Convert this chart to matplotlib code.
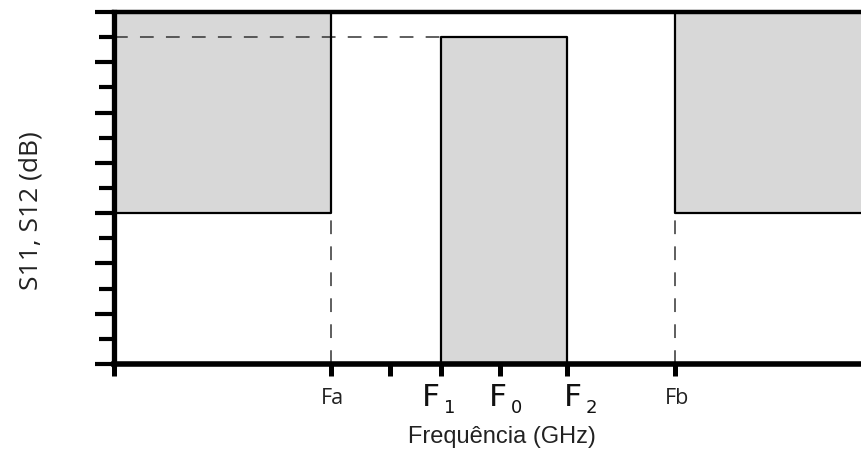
import matplotlib
matplotlib.use("Agg")
import matplotlib.pyplot as plt
from matplotlib.patches import Rectangle
from matplotlib.ticker import MultipleLocator
from matplotlib.transforms import blended_transform_factory, offset_copy

# Frequency axis (arbitrary units) and level axis (arbitrary dB units)
x_min, x_max = 0.0, 15.0
y_min, y_max = 0.0, 7.0

fa, f1, f0, f2, fb = 4.35, 6.55, 7.75, 9.08, 11.25
extra_tick = 5.53

# Stop-band masks (left/right) and pass-band region (centre)
stop_floor = 3.0
pass_level = 6.5

tick_positions = [x_min, fa, extra_tick, f1, f0, f2, fb]
edge_labels = {fa: "Fa", fb: "Fb"}
band_labels = [(f1, "1"), (f0, "0"), (f2, "2")]

fill_color = "#d8d8d8"
text_color = "#222222"

W, H = 862, 453
fig = plt.figure(figsize=(W / 100, H / 100), dpi=100)
ax = fig.add_axes([114 / W, 89 / H, 1 - 114 / W, (364 - 12) / H])
ax.set_xlim(x_min, x_max)
ax.set_ylim(y_min, y_max)

# Left stop band
ax.add_patch(Rectangle((x_min, stop_floor), fa - x_min, y_max - stop_floor,
                       facecolor=fill_color, edgecolor="none", zorder=1))
ax.plot([x_min, fa, fa], [stop_floor, stop_floor, y_max], color="black", lw=1.6, zorder=3)

# Right stop band
ax.add_patch(Rectangle((fb, stop_floor), x_max - fb, y_max - stop_floor,
                       facecolor=fill_color, edgecolor="none", zorder=1))
ax.plot([fb, fb, x_max], [y_max, stop_floor, stop_floor], color="black", lw=1.6, zorder=3)

# Pass band
ax.add_patch(Rectangle((f1, y_min), f2 - f1, pass_level - y_min,
                       facecolor=fill_color, edgecolor="none", zorder=1))
ax.plot([f1, f1, f2, f2], [y_min, pass_level, pass_level, y_min], color="black", lw=1.6, zorder=3)

# Guide lines
dash = dict(color="#333333", lw=1.1, linestyle=(0, (9, 8)), zorder=2)
ax.plot([x_min, f1], [pass_level, pass_level], **dash)
ax.plot([fa, fa], [y_min, stop_floor], **dash)
ax.plot([fb, fb], [y_min, stop_floor], **dash)

# Spines
ax.spines["left"].set_linewidth(3.8)
ax.spines["bottom"].set_linewidth(4.0)
ax.spines["top"].set_linewidth(3.2)
for side in ("left", "bottom", "top"):
    ax.spines[side].set_zorder(5)
ax.spines["right"].set_visible(False)

# Ticks
ax.yaxis.set_major_locator(MultipleLocator(1))
ax.yaxis.set_minor_locator(MultipleLocator(0.5))
ax.tick_params(axis="y", which="major", length=14, width=3.0, labelleft=False)
ax.tick_params(axis="y", which="minor", length=10.5, width=3.0)
ax.set_xticks(tick_positions)
ax.set_xticklabels([""] * len(tick_positions))
ax.tick_params(axis="x", which="major", length=8.5, width=3.6)

# Tick labels: edge frequencies in a plain face, band frequencies with subscripts
row = blended_transform_factory(ax.transData, fig.transFigure)
for xpos, txt in edge_labels.items():
    ax.text(xpos, 1 - 404 / H, txt, transform=offset_copy(row, fig, x=2, units="dots"),
            ha="center", va="baseline", fontfamily="Open Sans", fontsize=15.5,
            color=text_color)

band_shift = {f1: -19, f0: -12, f2: -3}
for xpos, sub in band_labels:
    dx = band_shift[xpos]
    ax.text(xpos, 1 - 406 / H, "F", transform=offset_copy(row, fig, x=dx, units="dots"),
            ha="left", va="baseline", fontfamily="DejaVu Sans", fontsize=22.5,
            color="#111111")
    ax.text(xpos, 1 - 413 / H, sub, transform=offset_copy(row, fig, x=dx + 22, units="dots"),
            ha="left", va="baseline", fontfamily="DejaVu Sans", fontsize=13,
            color="#111111")

fig.text(502 / W, 1 - 443 / H, "Frequência (GHz)", ha="center", va="baseline",
         fontfamily="Liberation Sans", fontsize=17, color=text_color)
fig.text(31 / W, 1 - 211 / H, "S11, S12 (dB)", ha="center", va="center",
         rotation=90, fontfamily="Open Sans", fontsize=19, color=text_color)

fig.savefig("out.png", dpi=100)
